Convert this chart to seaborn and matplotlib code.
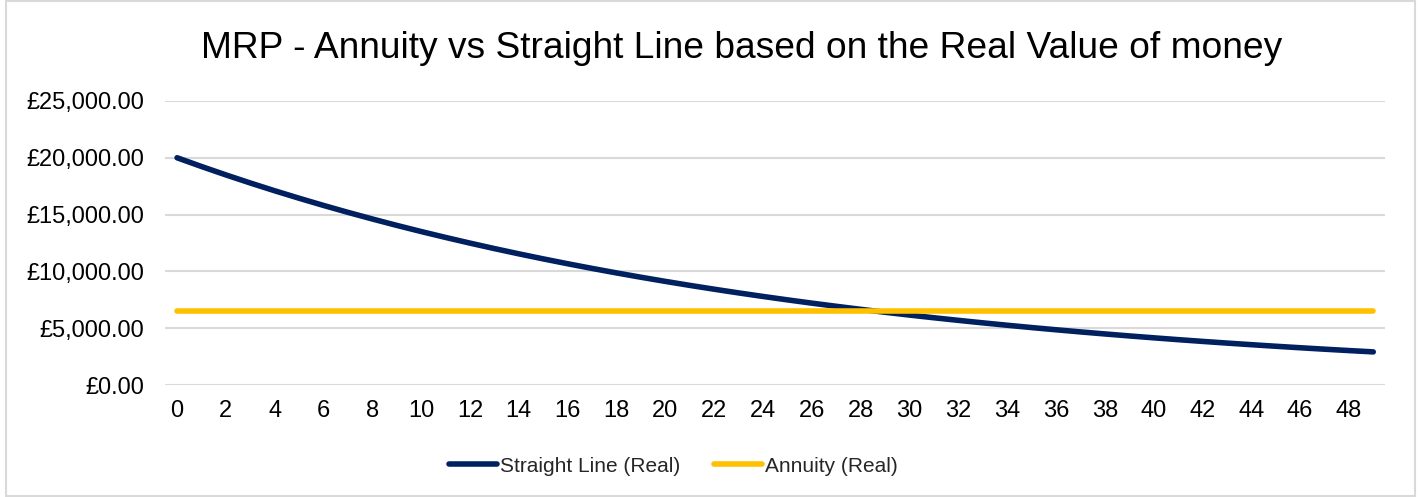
import matplotlib
matplotlib.use("Agg")
import matplotlib.pyplot as plt
import seaborn as sns
import pandas as pd
from matplotlib.patches import Rectangle
from matplotlib.ticker import FuncFormatter

# years 0..49
years = list(range(50))

# straight line MRP in real terms
straight_line_real = [
    20000, 19231, 18491, 17780, 17096, 16439, 15806, 15198, 14614, 14052,
    13511, 12992, 12492, 12012, 11550, 11106, 10679, 10268, 9873, 9493,
    9128, 8777, 8440, 8115, 7803, 7503, 7214, 6937, 6670, 6413,
    6167, 5929, 5701, 5482, 5271, 5068, 4873, 4686, 4506, 4332,
    4166, 4005, 3851, 3703, 3561, 3424, 3292, 3165, 3044, 2927,
]

# annuity MRP in real terms is flat
annuity_real = [6520] * 50

series_names = ["Straight Line (Real)", "Annuity (Real)"]
series_colors = ["#002060", "#FFC000"]

df = pd.DataFrame({
    "year": years * 2,
    "value": straight_line_real + annuity_real,
    "series": [series_names[0]] * 50 + [series_names[1]] * 50,
})

sns.set_style("white")
plt.rcParams["font.family"] = ["Liberation Sans", "DejaVu Sans"]

fig = plt.figure(figsize=(14.21, 4.97), dpi=100)
ax = fig.add_axes([0.116, 0.225, 0.859, 0.572])

sns.lineplot(data=df, x="year", y="value", hue="series", palette=series_colors,
             linewidth=4.0, ax=ax, legend=True)
for ln in ax.get_lines():
    ln.set_solid_capstyle("round")

ax.set_xlim(-0.5, 49.5)
ax.set_ylim(0, 25000)
ax.set_xticks(range(0, 50, 2))
ax.set_yticks(range(0, 25001, 5000))
ax.yaxis.set_major_formatter(FuncFormatter(lambda v, p: "£{:,.2f}".format(v)))
ax.tick_params(axis="both", labelsize=17, length=0, colors="#000000")
ax.tick_params(axis="y", pad=15)
ax.tick_params(axis="x", pad=11)
ax.grid(axis="y", color="#D9D9D9", linewidth=1.5)
ax.set_axisbelow(True)
for s in ax.spines.values():
    s.set_visible(False)
ax.set_xlabel("")
ax.set_ylabel("")

fig.text(0.522, 0.903, "MRP - Annuity vs Straight Line based on the Real Value of money",
         ha="center", va="center", fontsize=26.7, color="#000000")

handles, labels = ax.get_legend_handles_labels()
ax.legend_.remove()
for h in handles:
    h.set_linewidth(4.0)
    h.set_solid_capstyle("round")
fig.legend(handles, labels, loc="center", bbox_to_anchor=(0.474, 0.062), ncol=2,
           frameon=False, fontsize=15, handlelength=2.3, handletextpad=0.15,
           columnspacing=1.6)

# chart area border
fig.patches.append(Rectangle((0.004, 0.002), 0.992, 0.996, transform=fig.transFigure,
                             fill=False, edgecolor="#D9D9D9", linewidth=1.5))

fig.savefig("out.png", dpi=100)
